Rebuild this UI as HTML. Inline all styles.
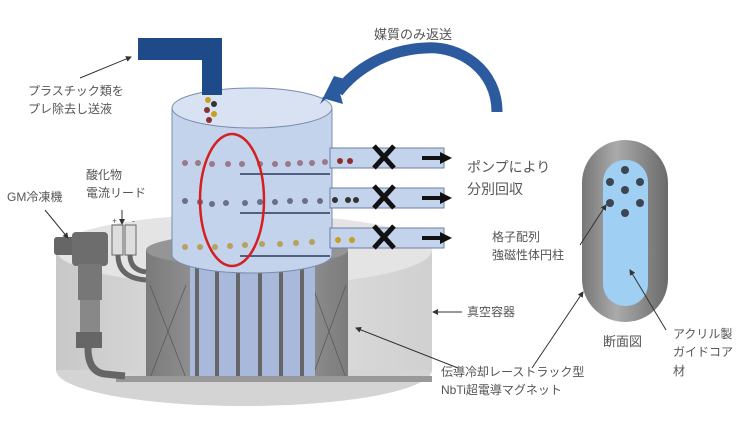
<!DOCTYPE html>
<html><head><meta charset="utf-8"><style>
body{margin:0;background:#fff;}
svg{display:block;}
text{font-family:"Liberation Sans","Noto Sans CJK JP",sans-serif;fill:#555;}
</style></head><body>
<svg width="750" height="421" viewBox="0 0 750 421" xmlns="http://www.w3.org/2000/svg">
<defs>
<linearGradient id="vg" x1="0" x2="1"><stop offset="0" stop-color="#c8c8c8"/><stop offset="0.5" stop-color="#e2e2e2"/><stop offset="1" stop-color="#d0d0d0"/></linearGradient>
<linearGradient id="mg" x1="0" x2="1"><stop offset="0" stop-color="#7a7a7a"/><stop offset="0.5" stop-color="#a8a8a8"/><stop offset="1" stop-color="#7c7c7c"/></linearGradient>
<linearGradient id="cg" x1="0" x2="1"><stop offset="0" stop-color="#777"/><stop offset="0.4" stop-color="#aaa"/><stop offset="1" stop-color="#6a6a6a"/></linearGradient>
<marker id="ah" markerWidth="6" markerHeight="6" refX="5" refY="3" orient="auto"><path d="M0,0 L6,3 L0,6z" fill="#333"/></marker>
</defs>
<ellipse cx="244" cy="370" rx="188" ry="36" fill="#d4d4d4"/>
<rect x="56" y="250" width="376" height="120" fill="url(#vg)"/>
<ellipse cx="244" cy="250" rx="188" ry="36" fill="#e4e4e4"/>
<rect x="146" y="250" width="202" height="128" fill="url(#mg)"/>
<ellipse cx="247" cy="250" rx="101" ry="16" fill="#959595"/>
<g stroke="#555" stroke-width="0.7" fill="none">
<path d="M150 285 L186 378 M186 285 L150 378 M312 285 L346 378 M346 285 L312 378"/>
</g>
<rect x="190" y="265" width="125" height="113" fill="#a9b9dc"/>
<g fill="#666">
<rect x="195" y="262" width="4" height="116"/><rect x="215" y="262" width="4" height="116"/><rect x="236" y="262" width="4" height="116"/><rect x="258" y="262" width="4" height="116"/><rect x="279" y="262" width="4" height="116"/><rect x="300" y="262" width="4" height="116"/>
</g>
<rect x="116" y="376" width="316" height="6" fill="#999"/>
<rect x="54" y="237" width="24" height="18" rx="3" fill="#666"/>
<rect x="72" y="232" width="36" height="34" rx="4" fill="#6d6d6d"/>
<rect x="78" y="264" width="24" height="36" fill="#777"/>
<rect x="80" y="300" width="20" height="34" fill="#888"/>
<rect x="76" y="332" width="26" height="16" fill="#666"/>
<path d="M88 348 Q88 372 105 374 L125 376" stroke="#666" stroke-width="7" fill="none"/>
<path d="M118 255 Q118 278 146 280 M130 255 Q130 270 146 272" stroke="#666" stroke-width="5" fill="none"/>
<rect x="112" y="225" width="11" height="30" fill="#ddd" stroke="#666"/>
<rect x="125" y="225" width="11" height="30" fill="#ddd" stroke="#666"/>
<text x="112" y="224" font-size="9" fill="#333">+</text><text x="132" y="224" font-size="9" fill="#333">-</text>
<line x1="122" y1="210" x2="122" y2="224" stroke="#333" marker-end="url(#ah)"/>
<path d="M172 108 L172 255 A80 18 0 0 0 332 255 L332 108z" fill="#c4d3ec" stroke="#7a8cad" stroke-width="1"/>
<ellipse cx="252" cy="108" rx="80" ry="20" fill="#d9e2f2" stroke="#7a8cad"/>
<g fill="#c4d3ec" stroke="#6c7fa3">
<rect x="330" y="148" width="114" height="20"/><rect x="330" y="188" width="114" height="20"/><rect x="330" y="228" width="114" height="20"/>
</g>
<g stroke="#2a3a5c" stroke-width="1.5">
<line x1="240" y1="174" x2="330" y2="174"/><line x1="240" y1="213" x2="330" y2="213"/><line x1="240" y1="256" x2="330" y2="256"/>
</g>
<g fill="#9a7a8a">
<circle cx="185" cy="163" r="3"/><circle cx="198" cy="163" r="3"/><circle cx="212" cy="164" r="3"/><circle cx="228" cy="164" r="3"/><circle cx="242" cy="164" r="3"/><circle cx="260" cy="164" r="3"/><circle cx="275" cy="164" r="3"/><circle cx="288" cy="164" r="3"/><circle cx="300" cy="163" r="3"/><circle cx="312" cy="163" r="3"/><circle cx="325" cy="162" r="3"/><circle cx="340" cy="161" r="3" fill="#8a3030"/><circle cx="350" cy="161" r="3" fill="#8a3030"/>
</g>
<g fill="#6a6f86">
<circle cx="185" cy="201" r="3"/><circle cx="200" cy="202" r="3"/><circle cx="212" cy="204" r="3"/><circle cx="226" cy="203" r="3"/><circle cx="245" cy="203" r="3"/><circle cx="260" cy="202" r="3"/><circle cx="275" cy="202" r="3"/><circle cx="290" cy="201" r="3"/><circle cx="305" cy="201" r="3"/><circle cx="320" cy="201" r="3"/><circle cx="335" cy="200" r="3" fill="#333"/><circle cx="348" cy="200" r="3" fill="#333"/><circle cx="356" cy="200" r="3" fill="#333"/>
</g>
<g fill="#b8a060">
<circle cx="185" cy="247" r="3"/><circle cx="200" cy="247" r="3"/><circle cx="215" cy="247" r="3"/><circle cx="230" cy="246" r="3"/><circle cx="245" cy="245" r="3"/><circle cx="262" cy="244" r="3"/><circle cx="280" cy="244" r="3"/><circle cx="296" cy="243" r="3"/><circle cx="312" cy="242" r="3"/><circle cx="338" cy="240" r="3" fill="#c8a020"/><circle cx="352" cy="240" r="3" fill="#c8a020"/>
</g>
<ellipse cx="232" cy="200" rx="32" ry="66" fill="none" stroke="#d42020" stroke-width="2.5"/>
<path d="M138 38 L222 38 L222 95 L202 95 L202 60 L138 60z" fill="#1f4a8a"/>
<g><circle cx="208" cy="100" r="3" fill="#c8a020"/><circle cx="214" cy="104" r="3" fill="#333"/><circle cx="207" cy="110" r="3" fill="#8a3030"/><circle cx="214" cy="114" r="3" fill="#c8a020"/><circle cx="209" cy="120" r="3" fill="#8a3030"/></g>
<g stroke="#111" stroke-width="5">
<path d="M374 146 L394 168 M394 146 L374 168"/><path d="M374 186 L394 208 M394 186 L374 208"/><path d="M374 226 L394 248 M394 226 L374 248"/>
</g>
<g fill="#111">
<rect x="422" y="156" width="18" height="4"/><path d="M440 152 L452 158 L440 164z"/>
<rect x="422" y="196" width="18" height="4"/><path d="M440 192 L452 198 L440 204z"/>
<rect x="422" y="236" width="18" height="4"/><path d="M440 232 L452 238 L440 244z"/>
</g>
<path d="M497 112 C497 70 460 45 425 48 C385 50 355 70 338 92" stroke="#2c5a9e" stroke-width="11" fill="none"/>
<path d="M320 104 L348 80 L334 76 z" fill="#2c5a9e"/>
<path d="M322 98 L343 104 L338 86z" fill="#2c5a9e"/>
<rect x="582" y="140" width="86" height="182" rx="43" fill="url(#cg)"/>
<rect x="603" y="160" width="45" height="146" rx="22" fill="#9fcff2"/>
<g fill="#3c4550"><circle cx="625" cy="170" r="4"/><circle cx="610" cy="182" r="4"/><circle cx="640" cy="182" r="4"/><circle cx="625" cy="190" r="4"/><circle cx="610" cy="203" r="4"/><circle cx="640" cy="203" r="4"/><circle cx="625" cy="213" r="4"/></g>
<g stroke="#333" stroke-width="1" fill="none">
<line x1="80" y1="78" x2="131" y2="57" marker-end="url(#ah)"/>
<line x1="45" y1="210" x2="68" y2="238" marker-end="url(#ah)"/>
<line x1="462" y1="312" x2="433" y2="312" marker-end="url(#ah)"/>
<line x1="458" y1="368" x2="356" y2="328" marker-end="url(#ah)"/>
<line x1="532" y1="368" x2="583" y2="292" marker-end="url(#ah)"/>
<line x1="580" y1="245" x2="606" y2="205" marker-end="url(#ah)"/>
<line x1="666" y1="330" x2="630" y2="270" marker-end="url(#ah)"/>
</g>
<text x="28" y="95" font-size="12">プラスチック類を</text>
<text x="28" y="113" font-size="12">プレ除去し送液</text>
<text x="7" y="201" font-size="12">GM冷凍機</text>
<text x="86" y="179" font-size="12">酸化物</text>
<text x="86" y="197" font-size="12">電流リード</text>
<text x="374" y="39" font-size="13">媒質のみ返送</text>
<text x="467" y="172" font-size="14">ポンプにより</text>
<text x="467" y="194" font-size="14">分別回収</text>
<text x="492" y="241" font-size="12">格子配列</text>
<text x="492" y="259" font-size="12">強磁性体円柱</text>
<text x="467" y="316" font-size="12">真空容器</text>
<text x="603" y="346" font-size="13">断面図</text>
<text x="673" y="338" font-size="12">アクリル製</text>
<text x="673" y="356" font-size="12">ガイドコア</text>
<text x="673" y="375" font-size="12">材</text>
<text x="441" y="376" font-size="12">伝導冷却レーストラック型</text>
<text x="441" y="394" font-size="12">NbTi超電導マグネット</text>
</svg>
</body></html>
